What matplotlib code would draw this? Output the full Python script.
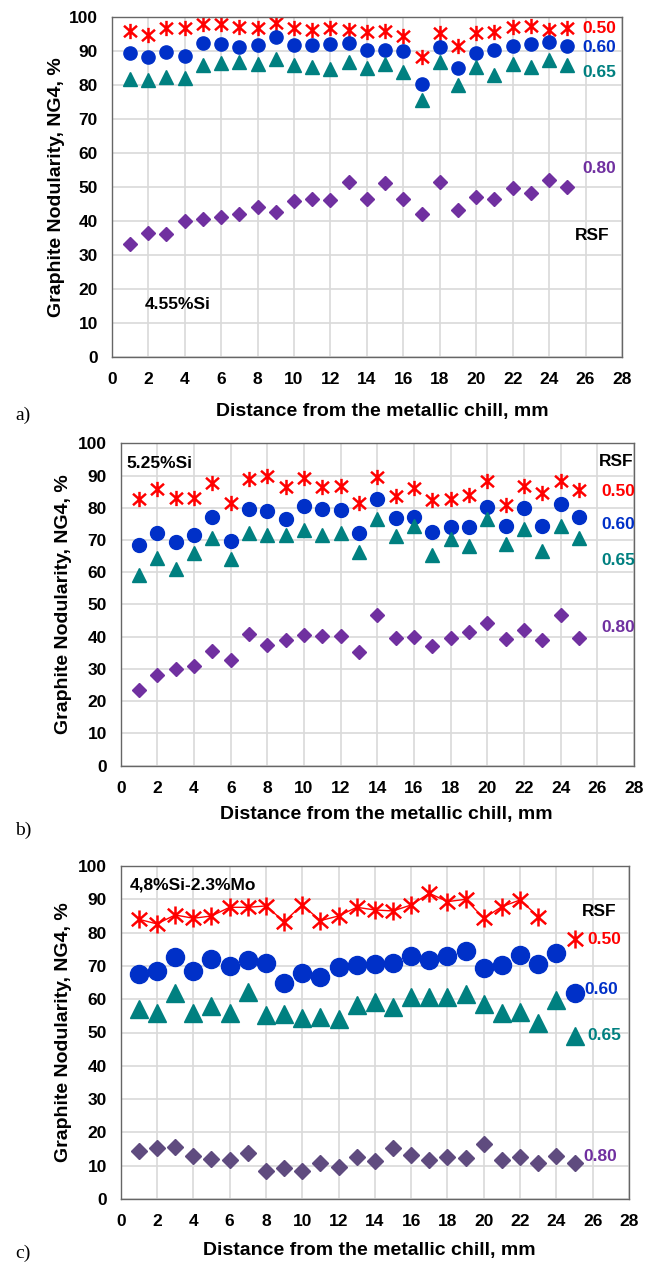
import matplotlib
matplotlib.use('Agg')
import matplotlib.pyplot as plt
import numpy as np
from matplotlib.path import Path

plt.rcParams.update({'font.family': 'Liberation Sans', 'font.weight': 'bold',
                     'axes.labelweight': 'bold',
                     'font.size': 12.5, 'axes.linewidth': 1.0})

# ---- data ----
dist = list(range(1, 26))
xticks = list(range(0, 29, 2))
yticks = list(range(0, 101, 10))
rsf_labels = ['0.50', '0.60', '0.65', '0.80']

# a) 4.55%Si
a_050 = [95.9, 94.6, 96.6, 96.6, 97.8, 97.8, 97.0, 96.6, 98.0, 96.6, 96.0, 96.6, 96.0,
         95.6, 95.9, 94.3, 88.0, 95.1, 91.4, 95.3, 95.6, 97.0, 97.4, 96.0, 96.6]
a_060 = [89.2, 88.2, 89.7, 88.5, 92.2, 91.9, 91.2, 91.7, 93.9, 91.7, 91.7, 92.0, 92.2,
         90.2, 90.2, 90.0, 80.2, 91.0, 84.8, 89.2, 90.2, 91.4, 91.9, 92.6, 91.4]
a_065 = [81.6, 81.4, 82.4, 82.0, 85.8, 86.3, 86.8, 86.0, 87.7, 85.8, 85.1, 84.6, 86.8,
         84.8, 86.0, 83.8, 75.5, 86.8, 79.9, 85.1, 82.8, 86.0, 85.3, 87.3, 85.8]
a_080 = [33.0, 36.5, 36.0, 40.0, 40.5, 41.0, 42.0, 44.0, 42.5, 45.7, 46.3, 46.0, 51.5,
         46.5, 51.0, 46.5, 42.0, 51.5, 43.0, 47.0, 46.5, 49.5, 48.0, 52.0, 50.0]

# b) 5.25%Si
b_050 = [82.8, 85.8, 83.1, 83.1, 87.7, 81.5, 88.9, 89.9, 86.5, 89.2, 86.5, 86.9, 81.5,
         89.5, 83.6, 86.2, 82.4, 82.6, 83.8, 88.2, 81.0, 86.7, 84.6, 88.2, 85.6]
b_060 = [68.4, 72.1, 69.4, 71.5, 77.2, 69.7, 79.5, 79.0, 76.6, 80.5, 79.5, 79.3, 72.1,
         82.8, 76.9, 77.2, 72.5, 74.0, 74.0, 80.3, 74.4, 79.8, 74.4, 81.3, 77.1]
b_065 = [59.0, 64.3, 61.0, 66.0, 70.5, 64.0, 72.3, 71.5, 71.5, 73.1, 71.5, 72.3, 66.2,
         76.4, 71.3, 74.4, 65.3, 70.3, 68.2, 76.4, 68.7, 73.3, 66.7, 74.4, 70.5]
b_080 = [23.3, 28.0, 30.0, 30.9, 35.5, 32.6, 40.7, 37.3, 39.1, 40.4, 40.1, 40.1, 35.2,
         46.8, 39.7, 39.9, 37.1, 39.7, 41.5, 44.2, 39.4, 42.0, 38.9, 46.8, 39.7]

# c) 4,8%Si-2.3%Mo
c_050 = [84.0, 82.6, 85.3, 84.3, 85.0, 87.6, 87.6, 88.0, 83.3, 88.3, 83.6, 85.0, 87.6,
         86.8, 86.5, 88.3, 91.8, 89.3, 90.0, 84.3, 87.8, 89.8, 84.8, np.nan, 78.0]
c_060 = [67.6, 68.6, 72.8, 68.6, 72.0, 70.0, 71.8, 70.8, 64.8, 67.8, 66.8, 69.8, 70.3,
         70.6, 70.8, 73.0, 71.8, 73.0, 74.6, 69.3, 70.3, 73.3, 70.6, 73.8, 61.8]
c_065 = [57.0, 56.0, 61.8, 56.0, 58.0, 56.0, 62.3, 55.3, 55.6, 54.3, 54.8, 54.0, 58.3,
         59.3, 57.8, 60.8, 60.8, 60.8, 61.6, 58.6, 55.8, 56.3, 52.8, 59.8, 48.8]
c_080 = [14.4, 15.4, 15.7, 12.9, 11.9, 11.7, 13.9, 8.3, 9.3, 8.3, 10.7, 9.6, 12.7,
         11.4, 15.2, 13.1, 11.7, 12.7, 12.4, 16.4, 11.7, 12.7, 10.7, 12.9, 10.7]

red, blue, teal, purple = '#ff0000', '#0030c8', '#008080', '#7030a0'
W, H = 656, 1263

# excel style asterisk: X with a vertical bar
star = Path([(0, -1), (0, 1), (-0.85, -0.75), (0.85, 0.75), (-0.85, 0.75), (0.85, -0.75)],
            [Path.MOVETO, Path.LINETO] * 3)


def make_axes(fig, left, right, top, bottom):
    ax = fig.add_axes([left / W, 1 - bottom / H, (right - left) / W, (bottom - top) / H])
    ax.set_xlim(0, 28)
    ax.set_ylim(0, 100)
    ax.set_xticks(xticks)
    ax.set_yticks(yticks)
    ax.grid(True, color='#d9d9d9', lw=1.2)
    ax.set_axisbelow(True)
    for s in ax.spines.values():
        s.set_color('#666666')
    ax.tick_params(length=0, labelsize=12.5, pad=11, colors='black')
    ax.tick_params(axis='y', pad=10)
    ax.set_xlabel('Distance from the metallic chill, mm', fontsize=14)
    ax.set_ylabel('Graphite Nodularity, NG4, %', fontsize=14)
    return ax


fig = plt.figure(figsize=(W / 100, H / 100), dpi=100)

# ---------- a ----------
ax1 = make_axes(fig, 111.7, 622, 16.7, 356.7)
ax1.plot(dist, a_050, ls='none', marker=star, ms=11, mec=red, mew=1.8)
ax1.plot(dist, a_060, ls='none', marker='o', ms=9.5, color=blue)
ax1.plot(dist, a_065, ls='none', marker='^', ms=10, color=teal)
ax1.plot(dist, a_080, ls='none', marker='D', ms=7, color=purple)
ax1.text(25.8, 96.5, rsf_labels[0], color=red, va='center')
ax1.text(25.8, 91.0, rsf_labels[1], color=blue, va='center')
ax1.text(25.8, 83.5, rsf_labels[2], color=teal, va='center')
ax1.text(25.8, 55.4, rsf_labels[3], color=purple, va='center')
ax1.text(25.4, 35.6, 'RSF', color='black', va='center')
ax1.text(1.8, 15.4, '4.55%Si', va='center')
ax1.xaxis.set_label_coords(0.5 + 15 / 510.3, -46.5 / 340)
ax1.yaxis.set_label_coords(-(111.7 - 65) / 510.3, 0.5)

# ---------- b ----------
ax2 = make_axes(fig, 120.7, 634, 443.3, 765.5)
ax2.plot(dist, b_050, ls='none', marker=star, ms=11, mec=red, mew=1.8)
ax2.plot(dist, b_060, ls='none', marker='o', ms=10, color=blue)
ax2.plot(dist, b_065, ls='none', marker='^', ms=10, color=teal)
ax2.plot(dist, b_080, ls='none', marker='D', ms=7, color=purple)
ax2.text(26.1, 94.4, 'RSF', color='black', va='center')
ax2.text(26.2, 85.1, rsf_labels[0], color=red, va='center')
ax2.text(26.2, 74.9, rsf_labels[1], color=blue, va='center')
ax2.text(26.2, 63.6, rsf_labels[2], color=teal, va='center')
ax2.text(26.2, 42.9, rsf_labels[3], color=purple, va='center')
ax2.text(0.33, 93.8, '5.25%Si', va='center')
ax2.xaxis.set_label_coords(0.5 + 9 / 513.3, -40.5 / 322.2)
ax2.yaxis.set_label_coords(-(120.7 - 72) / 513.3, 0.5)

# ---------- c ----------
ax3 = make_axes(fig, 120.7, 629, 866, 1199)
ax3.plot(dist, c_050, ls='-', lw=1.0, color=red, marker=star, ms=13, mec=red, mew=1.8)
ax3.plot(dist, c_060, ls='none', marker='o', ms=13, color=blue)
ax3.plot(dist, c_065, ls='none', marker='^', ms=13, color=teal)
ax3.plot(dist, c_080, ls='none', marker='D', ms=8.2, color='#5f4b7f')
ax3.text(25.4, 86.3, 'RSF', color='black', va='center')
ax3.text(25.7, 78.0, rsf_labels[0], color=red, va='center')
ax3.text(25.55, 63.0, rsf_labels[1], color=blue, va='center')
ax3.text(25.7, 49.2, rsf_labels[2], color=teal, va='center')
ax3.text(25.5, 12.7, rsf_labels[3], color=purple, va='center')
ax3.text(0.52, 94.3, '4,8%Si-2.3%Mo', va='center')
ax3.xaxis.set_label_coords(0.5 - 6 / 508.3, -43.5 / 333)
ax3.yaxis.set_label_coords(-(120.7 - 72) / 508.3, 0.5)

# panel letters
for lbl, ypx in [('a)', 415), ('b)', 830), ('c)', 1253)]:
    fig.text(15 / W, 1 - ypx / H, lbl, family='Liberation Serif', weight='normal',
             fontsize=14, va='center', ha='left')

fig.savefig('out.png', dpi=100)
